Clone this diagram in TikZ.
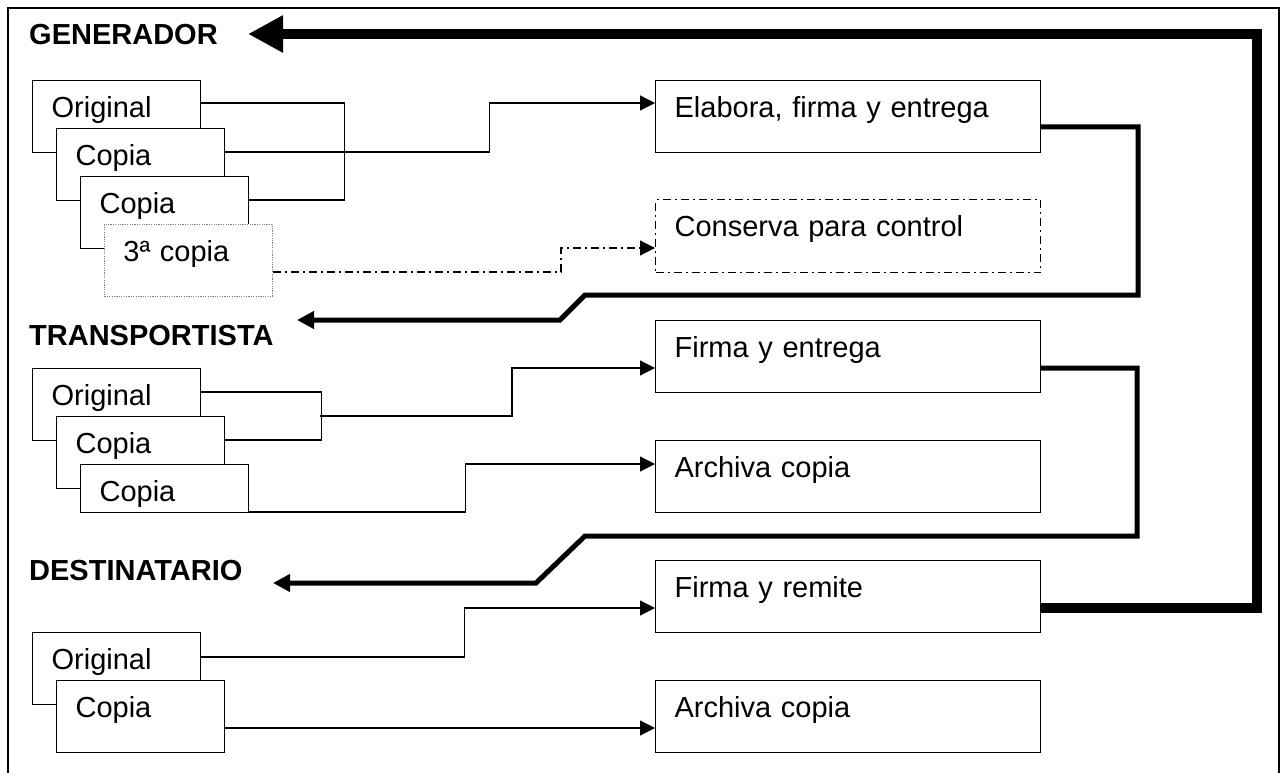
\documentclass[tikz,border=0pt]{standalone}
\usepackage{fontspec}
\setmainfont{Liberation Sans}
\usetikzlibrary{arrows.meta,calc}
\begin{document}
\begin{tikzpicture}[x=1pt,y=-1pt,
  every node/.style={font=\fontsize{29}{34}\selectfont},
  docbox/.style={draw,fill=white,line width=1.2pt,anchor=north west,inner xsep=19pt,inner ysep=0pt,
    align=left,text height=37pt},
  small/.style={text width=130pt,text depth=35pt},
  wide/.style={text width=347pt,text depth=35pt},
  shortbox/.style={text width=130pt,text depth=11pt},
  dotbox/.style={draw=gray,dash pattern=on 1.2pt off 1.2pt,line width=0.9pt},
  dashdotline/.style={dash pattern=on 8pt off 4pt on 2pt off 4pt},
  conn/.style={line width=1.2pt,-{Triangle[length=15pt,width=15pt]}},
  link/.style={line width=1.2pt},
  heavy/.style={line width=5pt,-{Triangle[length=17pt,width=17pt]}},
  huge/.style={line width=10pt,miter limit=10,-{Triangle[length=35pt,width=35pt]}},
  head/.style={anchor=base west,inner sep=0pt,font=\fontsize{29}{34}\selectfont\bfseries}
]
\useasboundingbox (0,0) rectangle (1288,773);
% frame
\draw[line width=1.2pt] (8,773) -- (8,8) -- (1279,8) -- (1279,773);

% headings
\node[head] (hG) at (29,45) {GENERADOR};
\node[head] (hT) at (29,345) {TRANSPORTISTA};
\node[head] (hD) at (29,580) {DESTINATARIO};

% ---------- Generador ----------
\node[docbox,small] (gO) at (32,80) {Original};
\node[docbox,small] (gC1) at (56,128) {Copia};
\node[docbox,small] (gC2) at (80,176) {Copia};
\node[docbox,small,dotbox] (g3) at (104,224) {3ª copia};

\node[docbox,wide] (elab) at (655,80) {Elabora, firma y entrega};
\node[docbox,wide,dashdotline,text depth=36pt] (cons) at (655,199) {Conserva para control};

\draw[link] ([yshift=-23pt]gO.north east) -- ++(143,0) |- ([yshift=-24pt]gC2.north east);
\draw[conn] ([yshift=-24pt]gC1.north east) -- ++(264,0) |- ([yshift=-23pt]elab.north west);
\draw[conn,dashdotline] ([yshift=-48pt]g3.north east) -- ++(288,0) |- ([yshift=-49pt]cons.north west);

% ---------- Transportista ----------
\node[docbox,small] (tO) at (32,368) {Original};
\node[docbox,small] (tC1) at (56,416) {Copia};
\node[docbox,shortbox] (tC2) at (80,464) {Copia};

\node[docbox,wide] (fe) at (655,320) {Firma y entrega};
\node[docbox,wide] (ta) at (655,440) {Archiva copia};

\draw[link] ([yshift=-24pt]tO.north east) -- ++(120,0) |- ([yshift=-24pt]tC1.north east);
\coordinate (tm) at (320,416);
\draw[conn] (tm) -- ++(192,0) |- ([yshift=-48pt]fe.north west);
\draw[conn] ([yshift=-48pt]tC2.north east) -- ++(216,0) |- ([yshift=-24pt]ta.north west);

% ---------- Destinatario ----------
\node[docbox,small] (dO) at (32,632) {Original};
\node[docbox,small] (dC) at (56,680) {Copia};

\node[docbox,wide] (fr) at (655,560) {Firma y remite};
\node[docbox,wide] (da) at (655,680) {Archiva copia};

\draw[conn] ([yshift=-25pt]dO.north east) -- ++(263,0) |- ([yshift=-48pt]fr.north west);
\draw[conn] ([yshift=-48pt]dC.north east) -- ([yshift=-48pt]da.north west);

% ---------- heavy flow lines ----------
\coordinate (k1) at (585,295);
\coordinate (k2) at (560,320);
\coordinate (tipT) at (297,320);
\draw[heavy] ([yshift=-47pt]elab.north east) -- ++(97,0) |- (k1) -- (k2) -- (tipT);

\coordinate (k3) at (585,536);
\coordinate (k4) at (536,583);
\coordinate (tipD) at (273,583);
\draw[heavy] ([yshift=-48pt]fe.north east) -- ++(96,0) |- (k3) -- (k4) -- (tipD);

\coordinate (tipG) at (248,34);
\draw[huge] ([yshift=-48pt]fr.north east) -- ++(216,0) |- (tipG);
\end{tikzpicture}
\end{document}
